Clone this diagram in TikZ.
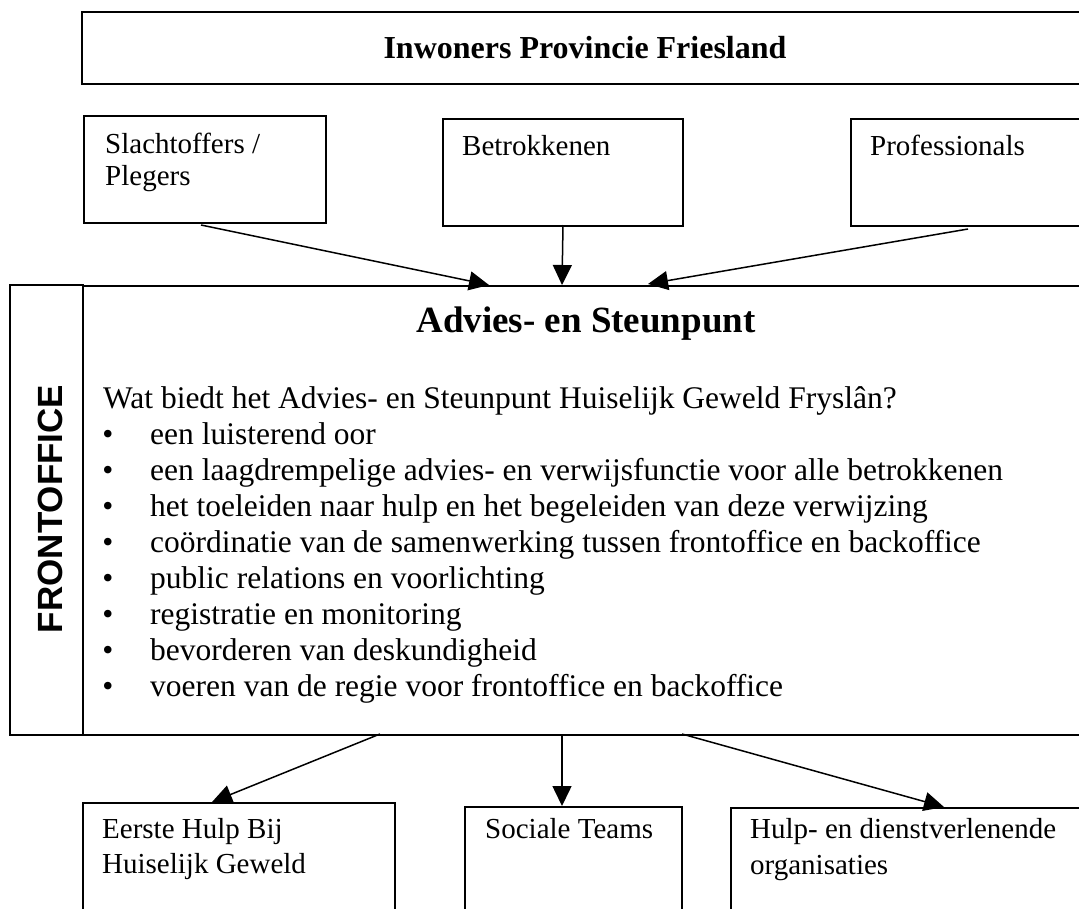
\documentclass[tikz,border=0pt]{standalone}
\usepackage{fontspec}
\setmainfont{Liberation Serif}[Ligatures=NoCommon]
\newfontfamily\arialfont{Liberation Sans}
\usetikzlibrary{arrows.meta,calc}
\begin{document}
\begin{tikzpicture}[x=1pt,y=-1pt,
  box/.style={draw, line width=2pt, anchor=north west, inner sep=0pt},
  conn/.style={line width=1.5pt, -{Triangle[length=20pt,width=19pt]}},
  lbl/.style={anchor=base west, inner sep=0pt, font=\fontsize{29}{32}\selectfont},
  body/.style={anchor=base west, inner sep=0pt, font=\fontsize{31.5}{36}\selectfont},
  bul/.style={anchor=base, inner sep=0pt, font=\fontsize{31.5}{36}\selectfont}]
\useasboundingbox (0,0) rectangle (1079,908);
\clip (0,0) rectangle (1079,908);
% top box
\node[box, minimum width=1019pt, minimum height=72pt] (top) at (81,11) {};
\node[font=\bfseries\fontsize{32}{36}\selectfont, anchor=base] (toptxt) at (585,58) {Inwoners Provincie Friesland};
% source boxes
\node[box, minimum width=242pt, minimum height=107pt] (s1) at (83,115) {};
\node[lbl] (s1a) at (105,153) {Slachtoffers /};
\node[lbl] (s1b) at (105,185) {Plegers};
\node[box, minimum width=240pt, minimum height=107pt] (s2) at (442,118) {};
\node[lbl] (s2a) at (462,155) {Betrokkenen};
\node[box, minimum width=250pt, minimum height=107pt] (s3) at (850,118) {};
\node[lbl] (s3a) at (870,155) {Professionals};
% frontoffice and main
\node[box, minimum width=73pt, minimum height=450pt] (fo) at (9,284) {};
\node[rotate=90, anchor=base, inner sep=0pt, font=\arialfont\bfseries\fontsize{35}{40}\selectfont] (fotxt) at (62,509) {FRONTOFFICE};
\node[box, minimum width=1018pt, minimum height=449pt] (main) at (82,285) {};
\node[font=\bfseries\fontsize{37}{42}\selectfont, anchor=base] (mtitle) at (586,332) {Advies- en Steunpunt};
\node[body] (q) at (103,408) {Wat biedt het Advies- en Steunpunt Huiselijk Geweld Fryslân?};
\foreach \i/\t in {1/een luisterend oor,
  2/een laagdrempelige advies- en verwijsfunctie voor alle betrokkenen,
  3/het toeleiden naar hulp en het begeleiden van deze verwijzing,
  4/coördinatie van de samenwerking tussen frontoffice en backoffice,
  5/public relations en voorlichting,
  6/registratie en monitoring,
  7/bevorderen van deskundigheid,
  8/voeren van de regie voor frontoffice en backoffice}{
  \node[bul] (b\i) at (108,{408+36*\i}) {•};
  \node[body] (t\i) at (150,{408+36*\i}) {\t};
}
% target boxes
\node[box, minimum width=312pt, minimum height=130pt] (d1) at (82,802) {};
\node[lbl] (d1a) at (102,838) {Eerste Hulp Bij};
\node[lbl] (d1b) at (102,873) {Huiselijk Geweld};
\node[box, minimum width=217pt, minimum height=130pt] (d2) at (464,806) {};
\node[lbl] (d2a) at (485,838) {Sociale Teams};
\node[box, minimum width=370pt, minimum height=130pt] (d3) at (730,807) {};
\node[lbl] (d3a) at (750,838) {Hulp- en dienstverlenende};
\node[lbl] (d3b) at (750,874) {organisaties};
% connector end points
\coordinate (a1s) at (201,225);
\coordinate (a1e) at (489,285);
\coordinate (a2s) at (563,225);
\coordinate (a2e) at (562,285);
\coordinate (a3s) at (968,229);
\coordinate (a3e) at (648,284);
\coordinate (b1s) at (380,734);
\coordinate (b1e) at (212,802);
\coordinate (b2s) at (562,734);
\coordinate (b2e) at (562,806);
\coordinate (b3s) at (682,734);
\coordinate (b3e) at (944,807);
\draw[conn] (a1s) -- (a1e);
\draw[conn] (a2s) -- (a2e);
\draw[conn] (a3s) -- (a3e);
\draw[conn] (b1s) -- (b1e);
\draw[conn] (b2s) -- (b2e);
\draw[conn] (b3s) -- (b3e);
\end{tikzpicture}
\end{document}
